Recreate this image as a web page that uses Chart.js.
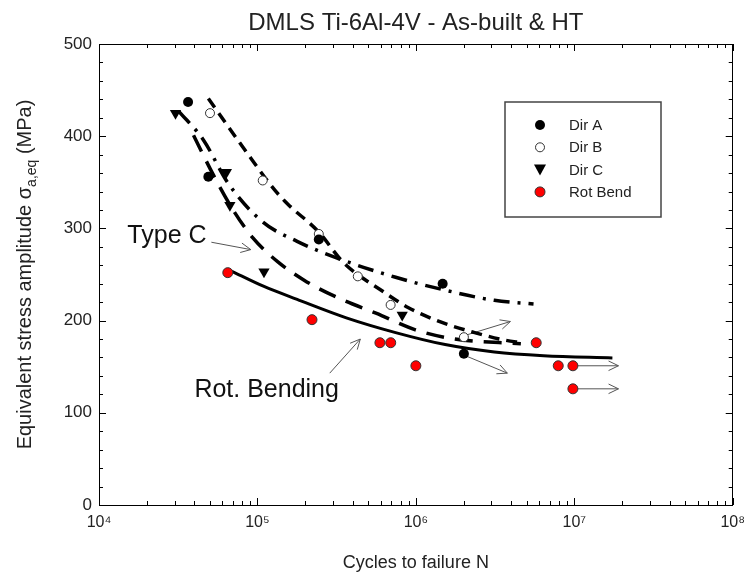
<!DOCTYPE html>
<html>
<head>
<meta charset="utf-8">
<script src="https://cdn.jsdelivr.net/npm/chart.js@4.4.1/dist/chart.umd.min.js"></script>
<style>
  html, body { margin: 0; padding: 0; background: #fff; }
  #wrap { width: 753px; height: 577px; }
</style>
</head>
<body>
<div id="wrap"><canvas id="chart" width="753" height="577"></canvas></div>
<script>
/* S-N plot: DMLS Ti-6Al-4V, scatter + fitted curves */

const FONT = 'Arial, "Liberation Sans", sans-serif';
const TXT  = '#222';

const TITLE   = 'DMLS Ti-6Al-4V - As-built & HT';
const X_TITLE = 'Cycles to failure N';
const X_TICKS = [1e4, 1e5, 1e6, 1e7, 1e8];
const Y_TICKS = [0, 100, 200, 300, 400, 500];
const SUP = { 4: '⁴', 5: '⁵', 6: '⁶', 7: '⁷', 8: '⁸' };

// ── test points ─────────────────────────────
const DIR_A_N = [36500, 49000, 244000, 1476000, 2010000];
const DIR_A_S = [437, 356, 288, 240, 164];

const DIR_B_N = [50200, 108000, 244000, 430000, 693000, 2010000];
const DIR_B_S = [425, 352, 294, 248, 217, 182];

const DIR_C_N = [30400, 63700, 67000, 110000, 820000];
const DIR_C_S = [425, 361, 325, 253, 206];

const ROT_N = [65000, 221000, 593000, 694000, 1000000, 5750000, 7920000, 9800000, 9800000];
const ROT_S = [252, 201, 176, 176, 151, 176, 151, 151, 126];

// ── fitted curves ───────────────────────────
const FIT_A_N = [31900, 45600, 65300, 108000, 178000, 316000, 745000, 1530000, 3130000, 5530000];
const FIT_A_S = [427, 396, 349, 307, 286, 268, 247, 233, 222, 218];

const FIT_B_N = [49000, 83400, 128000, 154000, 244000, 349000, 628000, 898000, 1460000, 2350000, 3600000, 4670000];
const FIT_B_S = [441, 385, 342, 327, 296, 263, 231, 214, 198, 187, 179, 176];

const FIT_C_N = [39500, 52700, 70200, 93300, 134000, 205000, 339000, 560000, 993000, 1760000, 4600000];
const FIT_C_S = [401, 358, 320, 290, 264, 242, 223, 208, 190, 180, 175];

const FIT_R_N = [68000, 110000, 178000, 364000, 745000, 1530000, 3130000, 6400000, 17400000];
const FIT_R_S = [254, 237, 223, 203, 187, 174, 166, 162, 159.5];

// ── annotations (data units) ────────────────
const ARROWS = [
  [51200, 285, 90800, 277],      // Type C
  [286000, 143, 446000, 180],    // Rot. Bending
  [2050000, 184, 3950000, 199],  // runout Dir B
  [2050000, 162, 3780000, 143],  // runout Dir A
  [10000000, 151, 19000000, 151],
  [10000000, 126, 19000000, 126]
];
const LABELS = [
  { text: 'Type C',       n: 15100, s: 292 },
  { text: 'Rot. Bending', n: 40000, s: 125 }
];

const LEGEND = ['Dir A', 'Dir B', 'Dir C', 'Rot Bend'];

const pts = (xs, ys) => xs.map((x, i) => ({ x, y: ys[i] }));

// ─────────────────────────────────────────────
// PLUGINS
// ─────────────────────────────────────────────
function arrow(ctx, x1, y1, x2, y2) {
  const a = Math.atan2(y2 - y1, x2 - x1), h = 11, w = 0.45;
  ctx.beginPath();
  ctx.moveTo(x1, y1); ctx.lineTo(x2, y2);
  ctx.moveTo(x2 - h * Math.cos(a - w), y2 - h * Math.sin(a - w));
  ctx.lineTo(x2, y2);
  ctx.lineTo(x2 - h * Math.cos(a + w), y2 - h * Math.sin(a + w));
  ctx.stroke();
}

function marker(ctx, kind, x, y) {
  ctx.save();
  ctx.lineWidth = 1;
  if (kind === 0) {
    ctx.fillStyle = '#000';
    ctx.beginPath(); ctx.arc(x, y, 5, 0, Math.PI * 2); ctx.fill();
  } else if (kind === 1) {
    ctx.fillStyle = '#fff'; ctx.strokeStyle = '#333';
    ctx.beginPath(); ctx.arc(x, y, 4.5, 0, Math.PI * 2); ctx.fill(); ctx.stroke();
  } else if (kind === 2) {
    ctx.fillStyle = '#000';
    ctx.beginPath(); ctx.moveTo(x - 6, y - 5); ctx.lineTo(x + 6, y - 5); ctx.lineTo(x, y + 6);
    ctx.closePath(); ctx.fill();
  } else {
    ctx.fillStyle = '#f00'; ctx.strokeStyle = '#333';
    ctx.beginPath(); ctx.arc(x, y, 5, 0, Math.PI * 2); ctx.fill(); ctx.stroke();
  }
  ctx.restore();
}

const decor = {
  id: 'decor',
  beforeDatasetsDraw(chart) {
    const { ctx, scales: { x, y } } = chart;
    ctx.save();
    ctx.strokeStyle = '#555';
    ctx.lineWidth = 1;
    ARROWS.forEach(([n1, s1, n2, s2]) =>
      arrow(ctx, x.getPixelForValue(n1), y.getPixelForValue(s1),
                 x.getPixelForValue(n2), y.getPixelForValue(s2)));
    ctx.fillStyle = '#111';
    ctx.font = '25px ' + FONT;
    ctx.textBaseline = 'middle';
    LABELS.forEach(l => ctx.fillText(l.text, x.getPixelForValue(l.n), y.getPixelForValue(l.s)));
    ctx.restore();
  },
  afterDraw(chart) {
    const { ctx, chartArea: a, scales: { x, y } } = chart;
    ctx.save();
    // frame
    ctx.strokeStyle = '#000';
    ctx.lineWidth = 1;
    ctx.strokeRect(Math.round(a.left) + 0.5, Math.round(a.top) + 0.5,
                   Math.round(a.right - a.left) - 1, Math.round(a.bottom - a.top));
    ctx.beginPath();
    // log x ticks, inward top and bottom
    for (let d = 4; d <= 8; d++) {
      for (let k = 1; k <= 9; k++) {
        const v = k * Math.pow(10, d);
        if (v > 1e8) break;
        const px = Math.round(x.getPixelForValue(v)) + 0.5;
        const len = k === 1 ? 7 : 4;
        ctx.moveTo(px, a.bottom); ctx.lineTo(px, a.bottom - len);
        ctx.moveTo(px, a.top);    ctx.lineTo(px, a.top + len);
      }
    }
    // y ticks every 20, inward left and right
    for (let v = 0; v <= 500; v += 20) {
      const py = Math.round(y.getPixelForValue(v)) + 0.5;
      const len = v % 100 === 0 ? 7 : 4;
      ctx.moveTo(a.left, py);  ctx.lineTo(a.left + len, py);
      ctx.moveTo(a.right, py); ctx.lineTo(a.right - len, py);
    }
    ctx.stroke();

    // legend
    const lx = 505, ly = 102;
    ctx.fillStyle = '#fff';
    ctx.fillRect(lx, ly, 156, 115);
    ctx.strokeStyle = '#444';
    ctx.lineWidth = 1.5;
    ctx.strokeRect(lx, ly, 156, 115);
    ctx.font = '15px ' + FONT;
    ctx.textBaseline = 'middle';
    LEGEND.forEach((t, i) => {
      const ry = ly + 23 + i * 22.3;
      marker(ctx, i, lx + 35, ry);
      ctx.fillStyle = TXT;
      ctx.fillText(t, lx + 64, ry + 1);
    });

    // titles
    ctx.fillStyle = TXT;
    ctx.textAlign = 'center';
    ctx.textBaseline = 'alphabetic';
    ctx.font = '24px ' + FONT;
    ctx.fillText(TITLE, (a.left + a.right) / 2, 30);
    ctx.font = '18px ' + FONT;
    ctx.fillText(X_TITLE, (a.left + a.right) / 2, 568);

    // y title with subscript
    const p1 = 'Equivalent stress amplitude σ', sub = 'a,eq', p2 = ' (MPa)';
    ctx.font = '20px ' + FONT;
    const w1 = ctx.measureText(p1).width, w3 = ctx.measureText(p2).width;
    ctx.font = '14px ' + FONT;
    const w2 = ctx.measureText(sub).width;
    const total = w1 + w2 + w3;
    ctx.translate(31, (a.top + a.bottom) / 2);
    ctx.rotate(-Math.PI / 2);
    ctx.textAlign = 'left';
    ctx.font = '20px ' + FONT;
    ctx.fillText(p1, -total / 2, 0);
    ctx.font = '14px ' + FONT;
    ctx.fillText(sub, -total / 2 + w1, 5);
    ctx.font = '20px ' + FONT;
    ctx.fillText(p2, -total / 2 + w1 + w2, 0);
    ctx.restore();
  }
};

// ─────────────────────────────────────────────
// CHART
// ─────────────────────────────────────────────
const fitLine = (xs, ys, dash, width) => ({
  type: 'line',
  data: pts(xs, ys),
  borderColor: '#000',
  borderWidth: width,
  borderDash: dash,
  borderCapStyle: 'butt',
  pointRadius: 0,
  tension: 0.4,
  cubicInterpolationMode: 'monotone',
  fill: false,
  order: 2
});

const scatter = (xs, ys, style) => Object.assign({
  type: 'scatter',
  data: pts(xs, ys),
  order: 1
}, style);

new Chart(document.getElementById('chart'), {
  data: {
    datasets: [
      scatter(DIR_A_N, DIR_A_S, { label: 'Dir A', pointStyle: 'circle', pointRadius: 5, backgroundColor: '#000', borderColor: '#000', borderWidth: 0 }),
      scatter(DIR_B_N, DIR_B_S, { label: 'Dir B', pointStyle: 'circle', pointRadius: 4.5, backgroundColor: '#fff', borderColor: '#333', borderWidth: 1 }),
      scatter(DIR_C_N, DIR_C_S, { label: 'Dir C', pointStyle: 'triangle', pointRotation: 180, pointRadius: 6.5, backgroundColor: '#000', borderColor: '#000', borderWidth: 0 }),
      scatter(ROT_N, ROT_S, { label: 'Rot Bend', pointStyle: 'circle', pointRadius: 5, backgroundColor: '#f00', borderColor: '#333', borderWidth: 1 }),
      fitLine(FIT_A_N, FIT_A_S, [16, 8, 3, 8], 3.5),
      fitLine(FIT_B_N, FIT_B_S, [11, 7], 3.5),
      fitLine(FIT_C_N, FIT_C_S, [18, 11], 3.5),
      fitLine(FIT_R_N, FIT_R_S, [], 3)
    ]
  },
  options: {
    responsive: false,
    animation: false,
    devicePixelRatio: 1,
    layout: { padding: { left: 0, top: 44, right: 11, bottom: 0 } },
    plugins: { legend: { display: false }, tooltip: { enabled: false } },
    scales: {
      x: {
        type: 'logarithmic',
        min: 1e4, max: 1e8,
        grid: { display: false, drawTicks: false },
        border: { display: false },
        afterBuildTicks: s => { s.ticks = X_TICKS.map(v => ({ value: v })); },
        afterFit: s => { s.height = 72; },
        ticks: {
          padding: 8,
          color: TXT,
          font: { family: FONT, size: 16 },
          maxRotation: 0,
          autoSkip: false,
          callback: v => '10' + SUP[Math.round(Math.log10(v))]
        }
      },
      y: {
        min: 0, max: 500,
        grid: { display: false, drawTicks: false },
        border: { display: false },
        afterBuildTicks: s => { s.ticks = Y_TICKS.map(v => ({ value: v })); },
        afterFit: s => { s.width = 99; },
        ticks: {
          padding: 7,
          color: TXT,
          font: { family: FONT, size: 17 }
        }
      }
    }
  },
  plugins: [decor]
});
</script>
</body>
</html>
